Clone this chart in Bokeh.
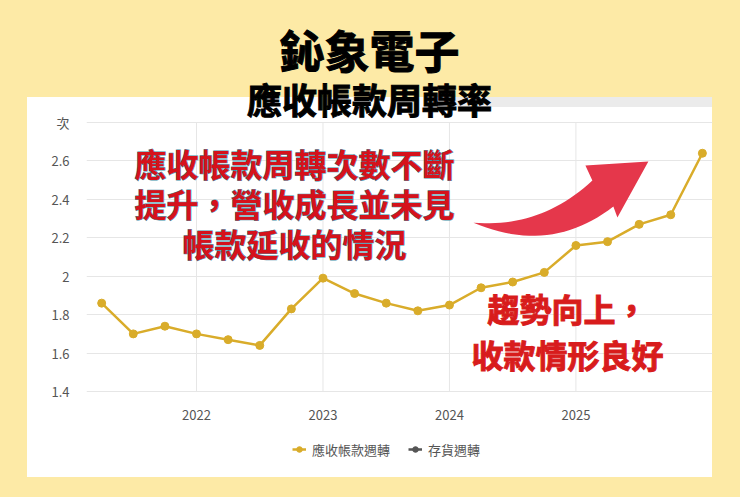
import numpy as np
from bokeh.plotting import figure
from bokeh.models import (Label, Legend, LegendItem, FixedTicker, Range1d,
                          ColumnDataSource)
from bokeh.embed import file_html
from bokeh.resources import INLINE

# data (quarter ends)
quarters = ["2021Q1", "2021Q2", "2021Q3", "2021Q4",
            "2022Q1", "2022Q2", "2022Q3", "2022Q4",
            "2023Q1", "2023Q2", "2023Q3", "2023Q4",
            "2024Q1", "2024Q2", "2024Q3", "2024Q4",
            "2025Q1", "2025Q2", "2025Q3", "2025Q4"]
ar_turnover = [1.86, 1.70, 1.74, 1.70,
               1.67, 1.64, 1.83, 1.99,
               1.91, 1.86, 1.82, 1.85,
               1.94, 1.97, 2.02, 2.16,
               2.18, 2.27, 2.32, 2.64]
# inventory turnover is switched off in the chart: nothing is drawn
inv_turnover = [float("nan")]
year_ticks = [2022, 2023, 2024, 2025]
y_ticks = [1.4, 1.6, 1.8, 2.0, 2.2, 2.4, 2.6, 2.8]
y_tick_labels = ["1.4", "1.6", "1.8", "2", "2.2", "2.4", "2.6", "次"]
series_names = ["應收帳款週轉", "存貨週轉"]

FONT = "Noto Sans CJK TC"
YELLOW = "#FDEAA6"
GOLD = "#D9AC2A"
GRID = "#e6e6e6"
RED = "#D5121B"
ARROW_RED = "#E5374B"

# quarter end as decimal year
x = [int(q[:4]) + int(q[-1]) * 0.25 for q in quarters]

# frame runs from the title down to the legend; ticks only cover 1.4..2.8
p = figure(width=740, height=497,
           x_range=Range1d(2021.13, 2026.08), y_range=Range1d(0.989, 3.383),
           output_backend="svg", toolbar_location=None,
           min_border_left=86, min_border_right=28,
           min_border_top=10, min_border_bottom=27,
           border_fill_color=None, background_fill_color=None,
           outline_line_color=None)

# yellow page with the white card (and its grey top strip) as css background
p.styles = {"background": (
    "linear-gradient(#ebebeb,#ebebeb) 455px 97px / 257px 10px no-repeat,"
    "linear-gradient(#ffffff,#ffffff) 27px 97px / 685px 380px no-repeat,"
    + YELLOW)}

# axes
p.xaxis.ticker = FixedTicker(ticks=year_ticks)
p.yaxis.ticker = FixedTicker(ticks=y_ticks)
p.yaxis.major_label_overrides = dict(zip(y_ticks, y_tick_labels))
for ax in (p.xaxis, p.yaxis):
    ax.axis_line_color = None
    ax.major_tick_line_color = None
    ax.minor_tick_line_color = None
    ax.major_label_text_color = "#555555"
    ax.major_label_text_font = FONT
    ax.major_label_text_font_size = "13px"
p.xaxis.major_label_standoff = -67
p.yaxis.major_label_standoff = 11
p.ygrid.grid_line_color = GRID
p.xgrid.visible = False
p.segment(x0=year_ticks, y0=[y_ticks[0]] * len(year_ticks),
          x1=year_ticks, y1=[y_ticks[-1]] * len(year_ticks),
          line_color=GRID, line_width=1)

# red curved arrow (quadratic bezier edges, data units)
tail = np.array([2024.19, 2.279])
top_ctrl = np.array([2024.719, 2.248])
top_end = np.array([2025.130, 2.498])
head = [(2025.075, 2.576), (2025.573, 2.597), (2025.328, 2.306)]
notch = np.array([2025.296, 2.363])
bot_ctrl = np.array([2024.798, 2.108])
t = np.linspace(0, 1, 25)[:, None]
top_edge = (1 - t) ** 2 * tail + 2 * t * (1 - t) * top_ctrl + t ** 2 * top_end
bot_edge = (1 - t) ** 2 * notch + 2 * t * (1 - t) * bot_ctrl + t ** 2 * tail
shape = np.vstack([top_edge, np.array(head), bot_edge])
p.patch(shape[:, 0], shape[:, 1], fill_color=ARROW_RED, line_color=None)

# series
src = ColumnDataSource(dict(x=x, y=ar_turnover))
ln = p.line("x", "y", source=src, color=GOLD, line_width=2.5)
pts = p.scatter("x", "y", source=src, size=8, color=GOLD)
inv = ColumnDataSource(dict(x=x[:1], y=inv_turnover))
ln2 = p.line("x", "y", source=inv, color="#555555", line_width=2.5)
pts2 = p.scatter("x", "y", source=inv, size=8, color="#555555")

legend = Legend(items=[LegendItem(label=series_names[0], renderers=[ln, pts]),
                       LegendItem(label=series_names[1], renderers=[ln2, pts2])],
                location=(206, 11), orientation="horizontal",
                padding=0, margin=0, spacing=18, label_standoff=6,
                glyph_width=14, glyph_height=20, label_height=20,
                border_line_color=None, background_fill_alpha=0,
                label_text_font=FONT, label_text_font_size="13px",
                label_text_color="#555555")
p.add_layout(legend, "center")

# texts (screen units, relative to frame bottom-left)
def add_text(sx, sy, text, size, color, outline=None):
    p.add_layout(Label(x=sx, y=sy, x_units="screen", y_units="screen",
                       text=text, text_font=FONT, text_font_style="bold",
                       text_font_size=size, text_color=color,
                       text_outline_color=outline,
                       text_align="center", text_baseline="middle"))

add_text(283, 421, "鈊象電子", "45px", "black", "black")
add_text(283, 372, "應收帳款周轉率", "35px", "black", "black")

note1 = ["應收帳款周轉次數不斷", "提升，營收成長並未見", "帳款延收的情況"]
for i, line in enumerate(note1):
    # outlined copy underneath, clean fill on top -> outline only outside
    add_text(208, 308 - 40 * i, line, "32px", RED, "#3f8fa8")
    add_text(208, 308 - 40 * i, line, "32px", RED)
note2 = ["趨勢向上，", "收款情形良好"]
for i, line in enumerate(note2):
    add_text(481, 163 - 46 * i, line, "32px", "#D81C1C", "#D81C1C")

html = file_html(p, INLINE)
html = html.replace("</head>", "<style>body{background:%s;}</style></head>" % YELLOW, 1)
open("out.html", "w").write(html)
